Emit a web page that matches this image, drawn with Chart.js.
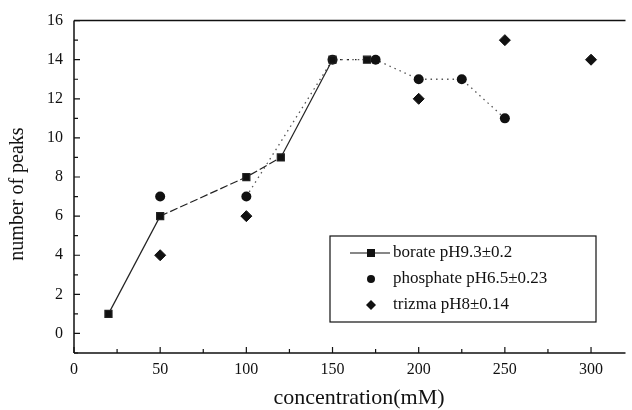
<!DOCTYPE html>
<html>
<head>
<meta charset="utf-8">
<script src="https://cdn.jsdelivr.net/npm/chart.js@4/dist/chart.umd.min.js"></script>
<style>
  html, body { margin: 0; padding: 0; background: #fff; }
  #wrap { width: 632px; height: 410px; }
</style>
</head>
<body>
<div id="wrap"><canvas id="myChart" width="632" height="410"></canvas></div>
<script>
// data
const borateX = [20, 50, 100, 120, 150, 170]
const borateY = [1, 6, 8, 9, 14, 14]
const phosphateX = [50, 100, 150, 175, 200, 225, 250]
const phosphateY = [7, 7, 14, 14, 13, 13, 11]
const trizmaX = [50, 100, 200, 250, 300]
const trizmaY = [4, 6, 12, 15, 14]

const xTicks = [0, 50, 100, 150, 200, 250, 300]
const yTicks = [0, 2, 4, 6, 8, 10, 12, 14, 16]
const seriesNames = ["borate pH9.3\u00b10.2", "phosphate pH6.5\u00b10.23", "trizma pH8\u00b10.14"]
const xTitle = "concentration(mM)"
const yTitle = "number of peaks"

const FONT = "'Liberation Serif', 'DejaVu Serif', serif"

function toPoints(xs, ys)
{
    return xs.map((x, i) => ({x: x, y: ys[i]}))
}

// frame, inward ticks, minor ticks, axis titles
const frame = {
    id: 'frame',
    afterDraw(chart) {
        const ctx = chart.ctx
        const xs = chart.scales.x, ys = chart.scales.y
        const a = chart.chartArea
        ctx.save()
        ctx.strokeStyle = '#111'
        ctx.lineWidth = 1.5
        ctx.beginPath()
        ctx.moveTo(a.left, a.top); ctx.lineTo(a.right, a.top)
        ctx.moveTo(a.left, a.top); ctx.lineTo(a.left, a.bottom)
        ctx.moveTo(a.left, a.bottom); ctx.lineTo(a.right, a.bottom)
        ctx.stroke()
        ctx.lineWidth = 1.2
        ctx.beginPath()
        for (let v = -1; v <= 16; v++) {
            const p = ys.getPixelForValue(v)
            const len = v % 2 === 0 ? 6 : 4
            ctx.moveTo(a.left, p); ctx.lineTo(a.left + len, p)
        }
        for (let v = 0; v <= 320; v += 25) {
            const p = xs.getPixelForValue(v)
            const len = v % 50 === 0 ? 6 : 4
            ctx.moveTo(p, a.bottom); ctx.lineTo(p, a.bottom - len)
        }
        ctx.stroke()

        ctx.fillStyle = '#111'
        ctx.textAlign = 'center'
        ctx.textBaseline = 'middle'
        ctx.font = "22px " + FONT
        ctx.fillText(xTitle, 359, 398)
        ctx.translate(18, 194)
        ctx.rotate(-Math.PI / 2)
        ctx.font = "20px " + FONT
        ctx.fillText(yTitle, 0, 0)
        ctx.restore()
    }
}

// legend box inside the plot
const boxLegend = {
    id: 'boxLegend',
    afterDraw(chart) {
        const ctx = chart.ctx
        ctx.save()
        ctx.strokeStyle = '#111'
        ctx.lineWidth = 1.2
        ctx.strokeRect(330, 236, 266, 86)
        ctx.font = "17px " + FONT
        ctx.fillStyle = '#111'
        ctx.textBaseline = 'middle'
        const rows = [253, 279, 305]
        // borate: line with square
        ctx.beginPath()
        ctx.moveTo(350, rows[0]); ctx.lineTo(390, rows[0])
        ctx.stroke()
        ctx.fillRect(367, rows[0] - 4, 8, 8)
        // phosphate: circle
        ctx.beginPath()
        ctx.arc(371, rows[1], 4, 0, Math.PI * 2)
        ctx.fill()
        // trizma: diamond
        ctx.beginPath()
        ctx.moveTo(371, rows[2] - 5); ctx.lineTo(376, rows[2])
        ctx.lineTo(371, rows[2] + 5); ctx.lineTo(366, rows[2])
        ctx.closePath()
        ctx.fill()
        seriesNames.forEach((name, i) => ctx.fillText(name, 393, rows[i]))
        ctx.restore()
    }
}

new Chart("myChart", {
    type: "scatter",
    data: {
        datasets: [
            {
                label: seriesNames[0],
                data: toPoints(borateX, borateY),
                showLine: true,
                borderColor: '#222',
                borderWidth: 1.2,
                segment: {
                    borderDash: c => c.p0DataIndex === 4 ? [1.5, 6] : (c.p0DataIndex === 1 || c.p0DataIndex === 2 ? [8, 3] : undefined)
                },
                backgroundColor: '#111',
                pointStyle: 'rect',
                pointRadius: 5,
                order: 1
            },
            {
                label: seriesNames[1],
                data: toPoints(phosphateX, phosphateY),
                showLine: true,
                borderColor: '#555',
                borderWidth: 1.3,
                borderDash: [1.5, 4],
                segment: {
                    borderColor: c => c.p0DataIndex === 0 ? 'rgba(0,0,0,0)' : '#555'
                },
                backgroundColor: '#111',
                pointStyle: 'circle',
                pointRadius: 5,
                pointBorderWidth: 0,
                order: 2
            },
            {
                label: seriesNames[2],
                data: toPoints(trizmaX, trizmaY),
                showLine: false,
                backgroundColor: '#111',
                borderColor: '#111',
                pointStyle: 'rectRot',
                pointRadius: 5.5,
                order: 3
            }
        ]
    },
    options: {
        responsive: false,
        animation: false,
        layout: {padding: {top: 18, right: 0, left: 0, bottom: 0}},
        plugins: {
            legend: {display: false},
            tooltip: {enabled: false}
        },
        scales: {
            x: {
                type: 'linear',
                min: 0,
                max: 320,
                afterBuildTicks: s => { s.ticks = xTicks.map(v => ({value: v})) },
                afterFit: s => { s.height = 57 },
                grid: {display: false, drawTicks: false},
                border: {display: false},
                ticks: {
                    color: '#111',
                    padding: 7,
                    font: {family: FONT, size: 16}
                }
            },
            y: {
                type: 'linear',
                min: -1,
                max: 16,
                afterBuildTicks: s => { s.ticks = yTicks.map(v => ({value: v})) },
                afterFit: s => { s.width = 74 },
                grid: {display: false, drawTicks: false},
                border: {display: false},
                ticks: {
                    color: '#111',
                    padding: 11,
                    font: {family: FONT, size: 16}
                }
            }
        }
    },
    plugins: [frame, boxLegend]
})
</script>
</body>
</html>
